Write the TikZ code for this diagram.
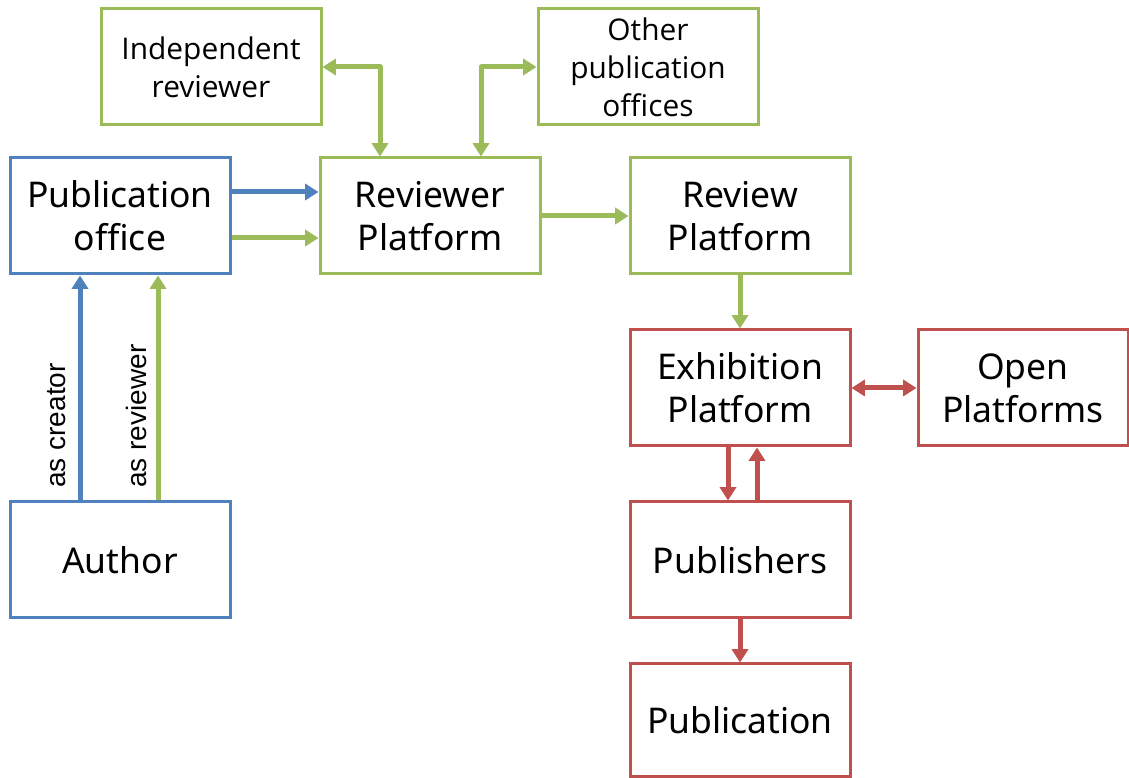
\documentclass[tikz,border=0pt]{standalone}
\usepackage{fontspec}
\setmainfont{Noto Sans}
\newfontfamily\smallf{Open Sans}
\newfontfamily\labf{Liberation Sans}
\usetikzlibrary{arrows.meta,calc}
\definecolor{cblue}{HTML}{4F81BD}
\definecolor{cgreen}{HTML}{9BBB59}
\definecolor{cred}{HTML}{C0504D}
\tikzset{
  box/.style={draw, line width=2.25pt, minimum width=165pt, minimum height=87pt, inner sep=0pt, align=center, fill=white},
  bigtext/.style={font=\fontsize{26.6pt}{32pt}\selectfont},
  smalltext/.style={font=\smallf\fontsize{22.4pt}{28.5pt}\selectfont},
  conn/.style={line width=3.75pt, line join=round, -{Triangle[length=10pt,width=12pt]}},
  dconn/.style={line width=3.75pt, line join=round, {Triangle[length=10pt,width=12pt]}-{Triangle[length=10pt,width=12pt]}},
  lab/.style={font=\labf\fontsize{21pt}{24pt}\selectfont, rotate=90, anchor=west, inner sep=0pt},
}
\begin{document}
\begin{tikzpicture}[x=0.75pt, y=0.75pt]
\useasboundingbox (0,0) rectangle (1129,778);
% nodes
\node[box, draw=cgreen, smalltext] (ir) at (211,711) {Independent\\reviewer};
\node[box, draw=cgreen, smalltext] (op) at (648,711) {Other\\publication\\offices};
\node[box, draw=cblue, bigtext] (po) at (120,562) {Publication\\office};
\node[box, draw=cgreen, bigtext] (rp) at (430,562) {Reviewer\\Platform};
\node[box, draw=cgreen, bigtext] (rv) at (740,562) {Review\\Platform};
\node[box, draw=cred, bigtext] (ex) at (740,390) {Exhibition\\Platform};
\node[box, draw=cred, bigtext, minimum width=157.5pt] (opl) at (1023,390) {Open\\Platforms};
\node[box, draw=cblue, bigtext] (au) at (120,218) {Author};
\node[box, draw=cred, bigtext] (pu) at (740,218) {Publishers};
\node[box, draw=cred, bigtext, minimum height=84.75pt] (pn) at (740,57.5) {Publication};
% connectors
\draw[conn, cblue] ($(po.east)+(0,24)$) -- ($(rp.west)+(0,24)$);
\draw[conn, cgreen] ($(po.east)+(0,-22)$) -- ($(rp.west)+(0,-22)$);
\draw[dconn, cgreen] (ir.east) -| ($(rp.north)+(-50,0)$);
\draw[dconn, cgreen] (op.west) -| ($(rp.north)+(51,0)$);
\draw[conn, cgreen] (rp.east) -- (rv.west);
\draw[conn, cgreen] (rv.south) -- (ex.north);
\draw[dconn, cred] (ex.east) -- (opl.west);
\draw[conn, cred] ($(ex.south)+(-12,0)$) -- ($(pu.north)+(-12,0)$);
\draw[conn, cred] ($(pu.north)+(17,0)$) -- ($(ex.south)+(17,0)$);
\draw[conn, cred] (pu.south) -- (pn.north);
\draw[conn, cblue] ($(au.north)+(-40,0)$) -- ($(po.south)+(-40,0)$);
\draw[conn, cgreen] ($(au.north)+(38,0)$) -- ($(po.south)+(38,0)$);
% labels
\node[lab] (lc) at (57,290) {as creator};
\node[lab] (lr) at (136,290) {as reviewer};
\end{tikzpicture}
\end{document}
